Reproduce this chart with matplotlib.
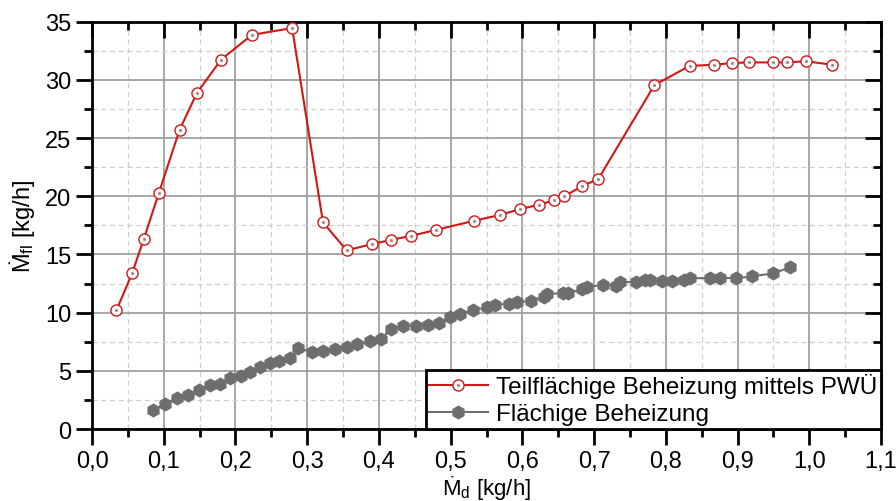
import numpy as np
import matplotlib
matplotlib.use('Agg')
import matplotlib.pyplot as plt
from matplotlib.ticker import MultipleLocator, FuncFormatter
from matplotlib.legend_handler import HandlerTuple

plt.rcParams['font.family'] = ['Liberation Sans', 'DejaVu Sans']
plt.rcParams['mathtext.default'] = 'regular'

## Teilflaechige Beheizung mittels PWUe (red)
md_pwu = [0.034, 0.056, 0.072, 0.093, 0.122, 0.146, 0.180, 0.223, 0.279,
          0.322, 0.355, 0.391, 0.417, 0.445, 0.479, 0.533, 0.569, 0.597,
          0.623, 0.644, 0.658, 0.683, 0.706, 0.784, 0.833, 0.867, 0.892,
          0.916, 0.949, 0.969, 0.995, 1.032]
mfl_pwu = [10.2, 13.4, 16.3, 20.25, 25.7, 28.85, 31.75, 33.87, 34.45,
           17.75, 15.35, 15.9, 16.25, 16.6, 17.1, 17.9, 18.4, 18.9,
           19.27, 19.65, 20.0, 20.85, 21.5, 29.55, 31.2, 31.3, 31.45,
           31.5, 31.5, 31.5, 31.6, 31.3]

## Flaechige Beheizung (grey)
md_fl = [0.0855, 0.102, 0.118, 0.134, 0.149, 0.165, 0.1785, 0.193, 0.2074,
         0.2204, 0.2345, 0.248, 0.261, 0.276, 0.2877, 0.306, 0.3226, 0.339,
         0.355, 0.370, 0.387, 0.403, 0.417, 0.434, 0.452, 0.468, 0.4836,
         0.4993, 0.5133, 0.531, 0.5505, 0.562, 0.581, 0.592, 0.612, 0.6295,
         0.634, 0.657, 0.664, 0.683, 0.690, 0.712, 0.731, 0.736, 0.7587,
         0.7713, 0.778, 0.7945, 0.809, 0.8247, 0.834, 0.861, 0.876, 0.898,
         0.9205, 0.949, 0.9735]
mfl_fl = [1.66, 2.12, 2.69, 2.95, 3.32, 3.78, 3.87, 4.35, 4.58,
          4.87, 5.3, 5.64, 5.87, 6.07, 6.93, 6.64, 6.73, 6.87,
          7.07, 7.3, 7.53, 7.73, 8.6, 8.87, 8.87, 8.93, 9.08,
          9.59, 9.88, 10.22, 10.45, 10.65, 10.78, 10.88, 11.02, 11.37,
          11.6, 11.68, 11.66, 12.03, 12.22, 12.37, 12.31, 12.6, 12.66,
          12.83, 12.83, 12.69, 12.69, 12.83, 12.97, 12.95, 13.0, 12.95,
          13.12, 13.37, 13.89]

labels = ['Teilflächige Beheizung mittels PWÜ', 'Flächige Beheizung']

fig = plt.figure(figsize=(8.96, 5.02), dpi=100)
ax = fig.add_axes([0.1027, 0.1434, 0.8806, 0.8114])

red = '#d01818'
grey = '#6e6e6e'

l1, = ax.plot(md_pwu, mfl_pwu, color=red, lw=1.5, marker='o', ms=8,
              mfc='white', mec=red, mew=1.0, zorder=4)
d1, = ax.plot(md_pwu, mfl_pwu, ls='none', marker='o', ms=1.2,
              color='#b08080', zorder=5)
l2, = ax.plot(md_fl, mfl_fl, color=grey, lw=1.5, marker='h', ms=9,
              mfc=grey, mec=grey, zorder=3)

ax.set_xlim(0, 1.1)
ax.set_ylim(0, 35)
ax.xaxis.set_major_locator(MultipleLocator(0.1))
ax.xaxis.set_minor_locator(MultipleLocator(0.05))
ax.yaxis.set_major_locator(MultipleLocator(5))
ax.yaxis.set_minor_locator(MultipleLocator(2.5))
ax.xaxis.set_major_formatter(FuncFormatter(lambda v, p: f'{v:.1f}'.replace('.', ',')))

ax.grid(which='major', color='#a0a0a0', lw=1.3, ls='-')
ax.grid(which='minor', color='#cfcfcf', lw=0.9, ls=(0, (4, 3)))
ax.set_axisbelow(True)

for s in ax.spines.values():
    s.set_linewidth(2)
    s.set_color('black')

ax.tick_params(which='both', width=2, labelsize=17, color='black')
ax.tick_params(which='major', length=11.5)
ax.tick_params(which='minor', length=5.5)
ax.tick_params(which='both', top=True, right=True)
# top and right ticks point inward
for t in ax.xaxis.get_major_ticks() + ax.xaxis.get_minor_ticks():
    t.tick2line.set_marker(matplotlib.lines.TICKDOWN)
for t in ax.yaxis.get_major_ticks() + ax.yaxis.get_minor_ticks():
    t.tick2line.set_marker(matplotlib.lines.TICKLEFT)

ax.set_xlabel('Ṁ$_{d}$ [kg/h]', fontsize=16, labelpad=0)
ax.set_ylabel('Ṁ$_{fl}$ [kg/h]', fontsize=17, labelpad=6)

leg = ax.legend([(l1, d1), l2], labels, loc='lower right',
                bbox_to_anchor=(1, 0), borderaxespad=0, fontsize=17.5,
                fancybox=False, framealpha=1, edgecolor='black',
                handlelength=2.4, handletextpad=0.35, labelspacing=0.2,
                borderpad=0.15, handler_map={tuple: HandlerTuple(ndivide=1)})
leg.get_frame().set_linewidth(2)
leg.set_zorder(10)

fig.savefig('out.png', dpi=100)
